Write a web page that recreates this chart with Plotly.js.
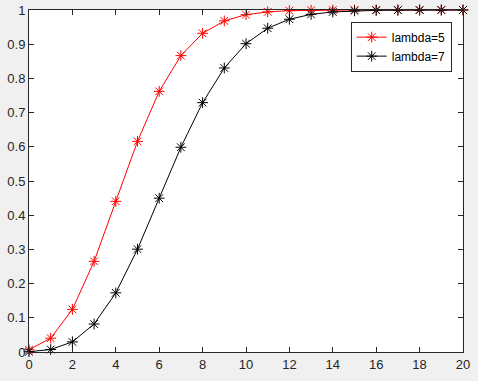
<!DOCTYPE html>
<html><head><meta charset="utf-8">
<script src="https://cdn.plot.ly/plotly-3.0.1.min.js"></script>
<style>html,body{margin:0;padding:0;background:#f0f0f0;}#chart{width:478px;height:381px;}</style>
</head><body><div id="chart"></div>
<script>
const kValues = [0,1,2,3,4,5,6,7,8,9,10,11,12,13,14,15,16,17,18,19,20];
const cdfLambda5 = [0.0067,0.0404,0.1247,0.2650,0.4405,0.6160,0.7622,0.8666,0.9319,0.9682,0.9863,0.9945,0.9980,0.9993,0.9998,0.9999,1.0000,1.0000,1.0000,1.0000,1.0000];
const cdfLambda7 = [0.0009,0.0073,0.0296,0.0818,0.1730,0.3007,0.4497,0.5987,0.7291,0.8305,0.9015,0.9467,0.9730,0.9872,0.9943,0.9976,0.9990,0.9996,0.9999,1.0000,1.0000];
const seriesNames = ['lambda=5','lambda=7'];
const xTicks = [0,2,4,6,8,10,12,14,16,18,20];
const yTicks = [0,0.1,0.2,0.3,0.4,0.5,0.6,0.7,0.8,0.9,1];

const mk = (y, name, color) => ({
  x: kValues, y: y, name: name, type: 'scatter', mode: 'lines+markers',
  line: {color: color, width: 1},
  marker: {symbol: 'asterisk-open', size: 9, color: color, line: {color: color, width: 1}},
  cliponaxis: false
});
const data = [mk(cdfLambda5, seriesNames[0], '#ff0000'), mk(cdfLambda7, seriesNames[1], '#000000')];
const axisCommon = {
  showline: true, linecolor: '#262626', linewidth: 1, mirror: 'ticks',
  ticks: 'inside', ticklen: 5, tickcolor: '#262626', showgrid: false, zeroline: false,
  tickfont: {family: 'Liberation Sans, Arial, sans-serif', size: 13, color: '#262626'}
};
const layout = {
  width: 478, height: 381,
  margin: {l: 29, r: 15, t: 10, b: 29},
  paper_bgcolor: '#f0f0f0', plot_bgcolor: '#ffffff',
  xaxis: Object.assign({}, axisCommon, {range: [0, 20], tickvals: xTicks, ticktext: xTicks.map(String)}),
  yaxis: Object.assign({}, axisCommon, {range: [0, 1], tickvals: yTicks, ticktext: yTicks.map(String)}),
  showlegend: true,
  legend: {x: 0.974, y: 0.966, xanchor: 'right', yanchor: 'top', bgcolor: '#ffffff', bordercolor: '#262626', borderwidth: 1,
    font: {family: 'Liberation Sans, Arial, sans-serif', size: 12, color: '#000000'}, tracegroupgap: 0, itemwidth: 30}
};
Plotly.newPlot('chart', data, layout, {displayModeBar: false, staticPlot: true});
</script>
</body></html>
